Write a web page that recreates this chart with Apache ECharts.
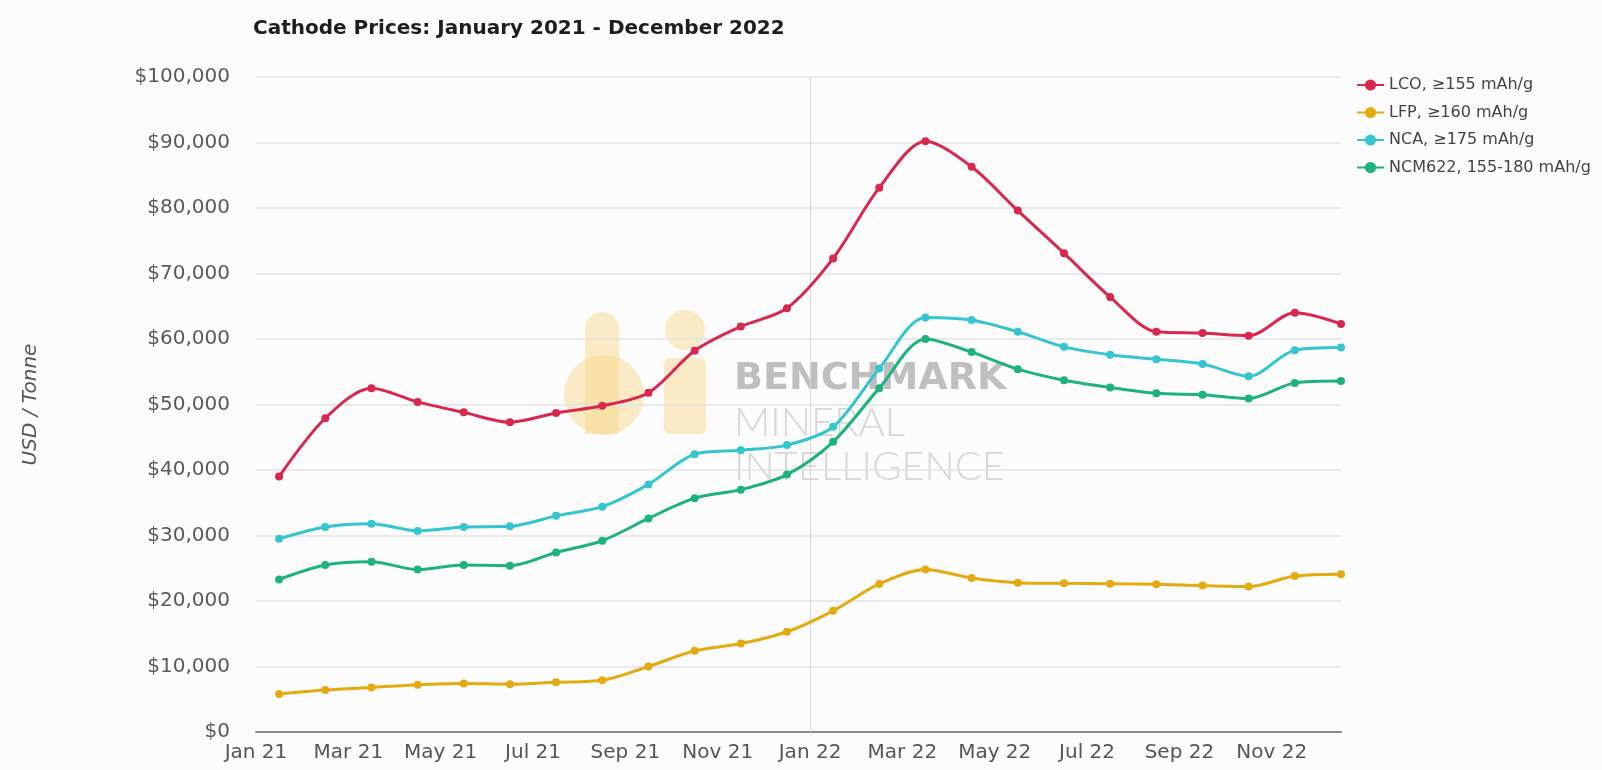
<!DOCTYPE html>
<html>
<head>
<meta charset="utf-8">
<script src="https://cdn.jsdelivr.net/npm/echarts@6/dist/echarts.min.js"></script>
<style>
html,body{margin:0;padding:0;background:#fdfcfd;}
#chart{width:1602px;height:770px;}
</style>
</head>
<body>
<div id="chart"></div>
<script>
const months = ['Jan 21','Feb 21','Mar 21','Apr 21','May 21','Jun 21','Jul 21','Aug 21','Sep 21','Oct 21','Nov 21','Dec 21',
                'Jan 22','Feb 22','Mar 22','Apr 22','May 22','Jun 22','Jul 22','Aug 22','Sep 22','Oct 22','Nov 22','Dec 22'];
const yTicks = [0,10000,20000,30000,40000,50000,60000,70000,80000,90000,100000];
const seriesNames = ['LCO, \u2265155 mAh/g','LFP, \u2265160 mAh/g','NCA, \u2265175 mAh/g','NCM622, 155-180 mAh/g'];
const lco = [39000,47900,52500,50400,48800,47300,48700,49800,51800,58200,61900,64700,
             72300,83100,90200,86300,79600,73100,66400,61100,60900,60500,64000,62300];
const lfp = [5800,6400,6800,7200,7400,7300,7600,7900,10000,12400,13500,15300,
             18500,22600,24800,23500,22800,22700,22650,22550,22350,22200,23800,24100];
const nca = [29500,31300,31800,30700,31300,31400,33000,34400,37800,42400,43000,43800,
             46600,55500,63300,62900,61100,58800,57600,56900,56200,54300,58300,58700];
const ncm = [23300,25500,26000,24800,25500,25400,27400,29200,32600,35700,37000,39300,
             44300,52500,60000,58000,55400,53700,52600,51700,51500,50900,53300,53600];
const colors = ['#d8284f','#e4ab10','#35c5d0','#1db27f'];
const values = [lco, lfp, nca, ncm];

const chart = echarts.init(document.getElementById('chart'), null, {renderer:'canvas'});
const FONT = 'DejaVu Sans';

const series = values.map((vals, k) => ({
  name: seriesNames[k],
  type: 'line',
  smooth: 0.3,
  symbol: 'circle',
  symbolSize: 8,
  lineStyle: {width: 3, color: colors[k]},
  itemStyle: {color: colors[k]},
  data: vals.map((v, i) => [i + 0.5, v]),
  z: 10 - k
}));
series[0].markLine = {
  silent: true,
  symbol: ['none','none'],
  label: {show: false},
  lineStyle: {color: '#d6d6d9', width: 1, type: 'solid'},
  data: [{xAxis: months.indexOf('Jan 22')}]
};

const logoColor = 'rgba(247,214,130,0.45)';
chart.setOption({
  backgroundColor: '#fdfcfd',
  animation: false,
  textStyle: {fontFamily: FONT},
  title: {
    text: 'Cathode Prices: January 2021 - December 2022',
    left: 248, top: 14,
    textStyle: {fontFamily: FONT, fontSize: 20, fontWeight: 'bold', color: '#1e1e1e'}
  },
  legend: {
    orient: 'vertical',
    left: 1356, top: 77, padding: 0,
    itemWidth: 27, itemHeight: 14, itemGap: 11.5,
    textStyle: {fontFamily: FONT, fontSize: 16, color: '#444'},
    data: seriesNames
  },
  grid: {left: 256, right: 261, top: 77, bottom: 38, containLabel: false},
  xAxis: {
    type: 'value',
    min: 0, max: 23.5, interval: 2,
    axisLine: {show: true, lineStyle: {color: '#8a8a8a', width: 2}},
    axisTick: {show: false},
    splitLine: {show: false},
    axisLabel: {
      fontFamily: FONT, fontSize: 20, color: '#555', margin: 11,
      showMaxLabel: false,
      formatter: v => (Number.isInteger(v) && months[v] !== undefined) ? months[v] : ''
    }
  },
  yAxis: {
    type: 'value',
    min: yTicks[0], max: yTicks[yTicks.length - 1], interval: yTicks[1] - yTicks[0],
    name: 'USD / Tonne',
    nameLocation: 'middle',
    nameRotate: 90,
    nameGap: 215,
    nameTextStyle: {fontFamily: FONT, fontSize: 20, fontStyle: 'italic', color: '#555'},
    axisLine: {show: false},
    axisTick: {show: false},
    splitLine: {lineStyle: {color: '#e2e2e6', width: 1.5}},
    axisLabel: {
      fontFamily: FONT, fontSize: 20, color: '#5a5a5a', margin: 26,
      formatter: v => '$' + v.toLocaleString('en-US')
    }
  },
  graphic: [
    {type: 'group', silent: true, z: 0, children: [
      {type: 'rect', shape: {x: 585, y: 312, width: 34, height: 122, r: [17,17,0,0]}, style: {fill: logoColor}},
      {type: 'circle', shape: {cx: 604, cy: 395, r: 40}, style: {fill: logoColor}},
      {type: 'circle', shape: {cx: 685, cy: 330, r: 20}, style: {fill: logoColor}},
      {type: 'rect', shape: {x: 664, y: 358, width: 42, height: 76, r: 6}, style: {fill: logoColor}},
      {type: 'text', left: 734, top: 360, style: {text: 'BENCHMARK', font: 'bold 38px "DejaVu Sans"', fill: 'rgba(150,150,150,0.6)'}},
      {type: 'text', left: 734, top: 403, style: {text: 'MINERAL', font: '300 40px Lato', fill: 'rgba(170,170,170,0.45)'}},
      {type: 'text', left: 734, top: 447, style: {text: 'INTELLIGENCE', font: '300 40px Lato', fill: 'rgba(170,170,170,0.45)'}}
    ]}
  ],
  series: series
});
</script>
</body>
</html>
